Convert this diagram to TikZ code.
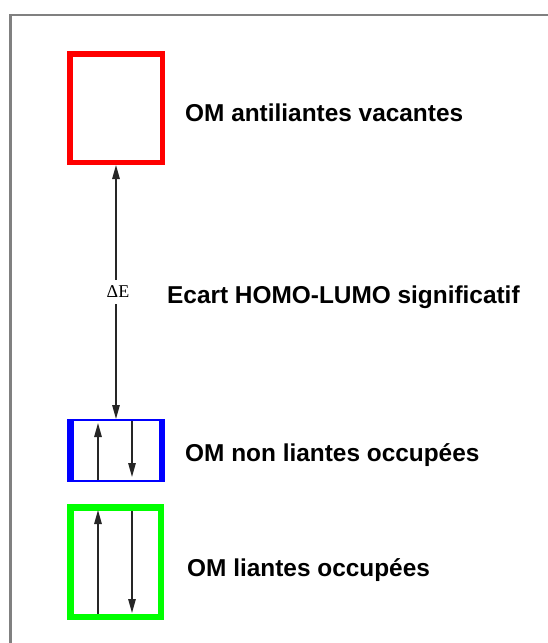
\documentclass[tikz,border=0pt]{standalone}
\usepackage{fontspec}
\setmainfont{Liberation Sans}
\newfontfamily\deltafont{Liberation Serif}
\usetikzlibrary{arrows.meta}
\begin{document}
\begin{tikzpicture}[x=1pt,y=-1pt,
  lbl/.style={anchor=base west, inner sep=0pt, font=\fontsize{24.4}{28}\selectfont\bfseries},
  spin/.style={draw=black!85, line width=1.4pt, -{Triangle[length=14pt,width=7.5pt]}},
  omsbox/.style={inner sep=0pt}]
\useasboundingbox (0,0) rectangle (547,643);
% frame
\draw[gray, line width=2.5pt] (560,15) -- (10.5,15) -- (10.5,660);
% boxes
\node[omsbox, draw=red, line width=5.5pt, minimum width=92.5pt, minimum height=108.5pt] (r) at (116,108) {};
\node[omsbox, draw=blue, line width=2pt, minimum width=96pt, minimum height=61pt] (b) at (116,450.5) {};
\draw[blue, line width=6.5pt] ([xshift=3.25pt]b.north west) -- ([xshift=3.25pt]b.south west);
\draw[blue, line width=6.5pt] ([xshift=-3.25pt]b.north east) -- ([xshift=-3.25pt]b.south east);
\node[omsbox, draw=green, line width=6.5pt, minimum width=90.5pt, minimum height=109.5pt] (g) at (115.5,562) {};
% spins
\draw[spin, shorten <=2pt, shorten >=4pt] ([xshift=-18pt]b.south) -- ([xshift=-18pt]b.north);
\draw[spin, shorten <=2pt, shorten >=5pt] ([xshift=16pt]b.north) -- ([xshift=16pt]b.south);
\draw[spin, shorten <=6.5pt, shorten >=6pt] ([xshift=-17.5pt]g.south) -- ([xshift=-17.5pt]g.north);
\draw[spin, shorten <=7pt, shorten >=7pt] ([xshift=16.5pt]g.north) -- ([xshift=16.5pt]g.south);
% gap arrow
\draw[spin, {Triangle[length=14pt,width=7.5pt]}-{Triangle[length=14pt,width=7.5pt]}] (r.south) -- (b.north)
  node[midway, fill=white, inner xsep=1pt, inner ysep=6pt, xshift=2pt, font=\deltafont\fontsize{18}{20}\selectfont] (de) {ΔE};
% labels
\node[lbl] (t1) at (185,121) {OM antiliantes vacantes};
\node[lbl] (t2) at (167,303) {Ecart HOMO-LUMO significatif};
\node[lbl] (t3) at (185,461) {OM non liantes occupées};
\node[lbl] (t4) at (187,576) {OM liantes occupées};
\end{tikzpicture}
\end{document}
